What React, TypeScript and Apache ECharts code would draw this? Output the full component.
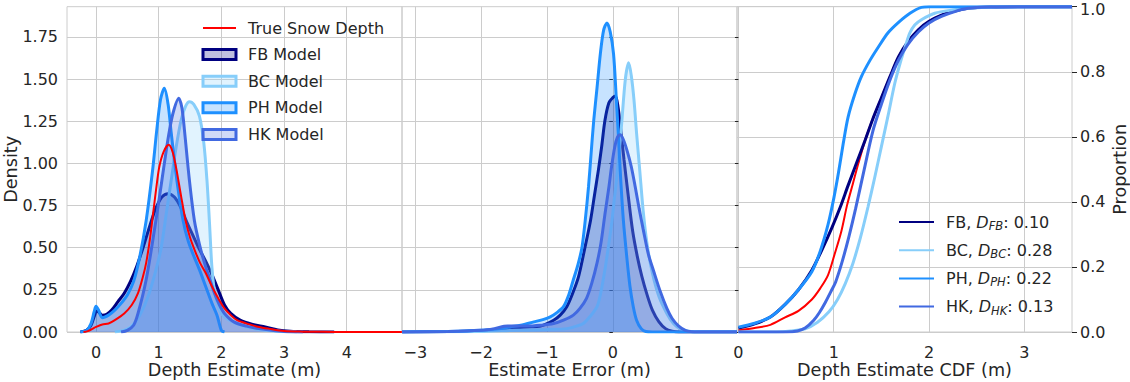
import React, { useEffect, useRef } from "react";
import * as echarts from "echarts";

const FONT = "DejaVu Sans";
const TEXT = "#262626";
const GRIDC = "#cccccc";

const MODEL_KEYS = ["FB", "BC", "PH", "HK"];
const MODEL_COLORS = ["#000080", "#87CEFA", "#1E90FF", "#4169E1"];
const TRUE_COLOR = "#FF0000";
const KS_VALUES = ["0.10", "0.28", "0.22", "0.13"];

const depthTicks = [0, 1, 2, 3, 4];
const errorTicks = [-3, -2, -1, 0, 1];
const cdfTicks = [0, 1, 2, 3];
const densityTicks = [0, 0.25, 0.5, 0.75, 1.0, 1.25, 1.5, 1.75];

// Panel 1: depth estimate densities
const trueDensity = [[-0.2,0],[-0.13,0.005],[-0.05,0.02],[0,0.03],[0.1,0.045],[0.2,0.05],[0.3,0.07],[0.45,0.11],[0.57,0.16],[0.67,0.23],[0.75,0.33],[0.8,0.41],[0.86,0.55],[0.91,0.7],[0.96,0.85],[1.01,0.98],[1.08,1.07],[1.16,1.11],[1.22,1.07],[1.28,0.97],[1.36,0.8],[1.43,0.66],[1.5,0.56],[1.58,0.48],[1.66,0.41],[1.75,0.35],[1.85,0.27],[1.95,0.2],[2.05,0.14],[2.15,0.1],[2.25,0.07],[2.45,0.045],[2.6,0.03],[2.75,0.02],[3.0,0.006],[3.3,0.002],[3.6,0.001],[4.0,0],[4.88,0]];
const fbDensity = [[-0.25,0],[-0.15,0.01],[-0.08,0.04],[-0.03,0.09],[0.01,0.125],[0.05,0.115],[0.1,0.1],[0.17,0.105],[0.25,0.13],[0.35,0.18],[0.45,0.23],[0.55,0.3],[0.65,0.39],[0.75,0.5],[0.85,0.62],[0.95,0.73],[1.05,0.8],[1.15,0.82],[1.25,0.8],[1.35,0.74],[1.45,0.65],[1.55,0.57],[1.65,0.49],[1.75,0.42],[1.85,0.34],[1.95,0.25],[2.05,0.16],[2.15,0.11],[2.3,0.07],[2.5,0.045],[2.7,0.03],[2.9,0.012],[3.1,0.004],[3.4,0.001],[3.8,0]];
const bcDensity = [[0.3,0],[0.45,0.01],[0.56,0.03],[0.7,0.1],[0.83,0.21],[0.95,0.36],[1.04,0.5],[1.12,0.7],[1.2,0.9],[1.28,1.1],[1.36,1.26],[1.43,1.34],[1.49,1.366],[1.56,1.35],[1.65,1.28],[1.72,1.12],[1.77,0.9],[1.81,0.65],[1.85,0.38],[1.9,0.22],[1.97,0.13],[2.05,0.09],[2.2,0.055],[2.4,0.03],[2.6,0.015],[2.9,0.004],[3.2,0]];
const phDensity = [[-0.25,0],[-0.15,0.01],[-0.08,0.05],[-0.03,0.12],[0,0.152],[0.04,0.13],[0.1,0.085],[0.2,0.1],[0.3,0.13],[0.4,0.17],[0.5,0.22],[0.6,0.3],[0.7,0.45],[0.8,0.66],[0.9,0.95],[0.97,1.2],[1.03,1.38],[1.09,1.445],[1.15,1.35],[1.2,1.18],[1.29,0.9],[1.39,0.66],[1.47,0.54],[1.55,0.46],[1.65,0.37],[1.75,0.27],[1.85,0.17],[1.93,0.1],[2.0,0.01],[2.05,0]];
const hkDensity = [[0.4,0],[0.5,0.01],[0.6,0.04],[0.67,0.11],[0.8,0.31],[0.93,0.6],[1.02,0.82],[1.09,1.0],[1.16,1.17],[1.23,1.3],[1.32,1.386],[1.37,1.33],[1.41,1.2],[1.49,0.9],[1.57,0.66],[1.65,0.52],[1.73,0.41],[1.81,0.32],[1.89,0.23],[1.97,0.16],[2.05,0.11],[2.2,0.06],[2.4,0.035],[2.6,0.02],[2.8,0.01],[3.0,0.003],[3.3,0]];

// Panel 2: estimate error densities
const fbError = [[-3.2,0],[-2.5,0.003],[-2.0,0.008],[-1.7,0.015],[-1.5,0.025],[-1.3,0.03],[-1.1,0.035],[-0.9,0.07],[-0.8,0.1],[-0.7,0.15],[-0.61,0.23],[-0.52,0.33],[-0.43,0.49],[-0.34,0.66],[-0.28,0.81],[-0.22,0.96],[-0.17,1.1],[-0.12,1.256],[-0.06,1.36],[0.0,1.39],[0.04,1.4],[0.08,1.33],[0.12,1.2],[0.17,1.02],[0.23,0.82],[0.3,0.6],[0.37,0.45],[0.44,0.33],[0.52,0.22],[0.6,0.13],[0.7,0.06],[0.8,0.02],[0.9,0.005],[1.0,0],[1.885,0]];
const bcError = [[-3.2,0],[-2.0,0.003],[-1.5,0.01],[-1.0,0.015],[-0.7,0.02],[-0.55,0.035],[-0.45,0.05],[-0.35,0.09],[-0.24,0.15],[-0.18,0.24],[-0.12,0.37],[-0.07,0.5],[-0.02,0.64],[0.02,0.78],[0.06,0.92],[0.13,1.22],[0.19,1.5],[0.24,1.596],[0.28,1.52],[0.32,1.38],[0.36,1.18],[0.41,0.95],[0.46,0.72],[0.52,0.52],[0.6,0.35],[0.7,0.21],[0.82,0.11],[0.92,0.05],[1.02,0.02],[1.15,0.005],[1.3,0],[1.885,0]];
const phError = [[-3.2,0],[-2.5,0.003],[-2.0,0.01],[-1.7,0.02],[-1.56,0.03],[-1.4,0.04],[-1.2,0.06],[-1.05,0.075],[-0.95,0.09],[-0.85,0.115],[-0.75,0.15],[-0.67,0.22],[-0.6,0.31],[-0.53,0.4],[-0.47,0.5],[-0.42,0.66],[-0.37,0.86],[-0.33,1.06],[-0.29,1.256],[-0.24,1.45],[-0.19,1.65],[-0.14,1.79],[-0.09,1.833],[-0.04,1.78],[0.01,1.65],[0.05,1.4],[0.085,1.157],[0.12,0.9],[0.16,0.66],[0.21,0.45],[0.26,0.27],[0.31,0.15],[0.36,0.07],[0.43,0.02],[0.5,0.003],[0.6,0],[1.885,0]];
const hkError = [[-3.2,0],[-2.5,0.003],[-2.0,0.01],[-1.8,0.02],[-1.6,0.035],[-1.45,0.035],[-1.3,0.035],[-1.1,0.04],[-0.9,0.05],[-0.75,0.07],[-0.6,0.1],[-0.5,0.14],[-0.4,0.2],[-0.32,0.29],[-0.24,0.41],[-0.18,0.53],[-0.12,0.7],[-0.06,0.86],[-0.02,0.98],[0.03,1.1],[0.07,1.155],[0.11,1.17],[0.16,1.14],[0.22,1.07],[0.28,0.98],[0.34,0.86],[0.4,0.73],[0.46,0.61],[0.54,0.46],[0.62,0.36],[0.72,0.24],[0.82,0.14],[0.9,0.08],[1.0,0.035],[1.1,0.01],[1.2,0.002],[1.3,0],[1.885,0]];

// Panel 3: CDFs
const trueCdf = [[0,0.005],[0.17,0.012],[0.335,0.022],[0.49,0.045],[0.63,0.065],[0.77,0.1],[0.86,0.135],[0.94,0.175],[1.01,0.24],[1.08,0.31],[1.14,0.39],[1.2,0.455],[1.26,0.52],[1.33,0.59],[1.41,0.655],[1.5,0.72],[1.59,0.785],[1.68,0.846],[1.78,0.893],[1.89,0.93],[2.0,0.955],[2.13,0.974],[2.27,0.987],[2.41,0.995],[2.65,0.999],[2.94,1],[3.5,1]];
const fbCdf = [[0,0.012],[0.17,0.025],[0.335,0.046],[0.49,0.085],[0.63,0.13],[0.77,0.19],[0.88,0.255],[0.98,0.32],[1.07,0.385],[1.15,0.45],[1.24,0.52],[1.33,0.59],[1.41,0.655],[1.5,0.72],[1.59,0.785],[1.68,0.846],[1.78,0.893],[1.89,0.93],[2.0,0.955],[2.13,0.974],[2.27,0.987],[2.41,0.995],[2.65,0.999],[2.94,1],[3.5,1]];
const bcCdf = [[0,0],[0.4,0],[0.55,0.003],[0.7,0.01],[0.83,0.03],[0.95,0.062],[1.04,0.1],[1.12,0.148],[1.2,0.21],[1.28,0.29],[1.36,0.385],[1.43,0.475],[1.5,0.57],[1.57,0.665],[1.64,0.764],[1.7,0.83],[1.75,0.877],[1.8,0.92],[1.85,0.944],[1.92,0.96],[2.06,0.98],[2.25,0.99],[2.41,0.995],[2.7,0.999],[3.0,1],[3.5,1]];
const phCdf = [[0,0.015],[0.17,0.027],[0.335,0.046],[0.49,0.085],[0.63,0.13],[0.77,0.185],[0.86,0.25],[0.94,0.33],[1.0,0.41],[1.05,0.49],[1.1,0.58],[1.15,0.66],[1.22,0.73],[1.29,0.785],[1.38,0.835],[1.47,0.877],[1.57,0.92],[1.68,0.952],[1.8,0.98],[1.92,0.998],[2.0,1],[3.5,1]];
const hkCdf = [[0,0],[0.5,0],[0.62,0.003],[0.7,0.012],[0.79,0.036],[0.85,0.06],[0.91,0.09],[0.98,0.13],[1.02,0.154],[1.09,0.218],[1.16,0.294],[1.23,0.38],[1.32,0.5],[1.41,0.617],[1.5,0.7],[1.59,0.775],[1.68,0.836],[1.78,0.885],[1.89,0.923],[2.0,0.95],[2.13,0.97],[2.27,0.985],[2.41,0.995],[2.65,0.999],[2.94,1],[3.5,1]];

const depthSeries = [fbDensity, bcDensity, phDensity, hkDensity];
const errorSeries = [fbError, bcError, phError, hkError];
const cdfSeries = [fbCdf, bcCdf, phCdf, hkCdf];

const minusFmt = (v: number) => (v < 0 ? "\u2212" + Math.abs(v) : String(v));

function hexToRgba(hex: string, a: number) {
  const n = parseInt(hex.slice(1), 16);
  return `rgba(${(n >> 16) & 255},${(n >> 8) & 255},${n & 255},${a})`;
}

export default function App() {
  const ref = useRef<HTMLDivElement>(null);
  useEffect(() => {
    if (!ref.current) return;
    const chart = echarts.init(ref.current, undefined, { renderer: "svg" });
    const textBase = { fontFamily: FONT, color: TEXT };
    const grids = [67, 402, 737].map((left) => ({
      left, top: 6.7, width: 335, height: 325.3, show: true, containLabel: false, outerBoundsMode: "none",
      borderColor: GRIDC, borderWidth: 1, backgroundColor: "transparent",
    }));
    const splitLine = { show: true, lineStyle: { color: GRIDC, width: 1 } };
    const xName = {
      nameLocation: "middle", nameGap: 29, nameMoveOverlap: false,
      nameTextStyle: { ...textBase, fontSize: 17.6, lineHeight: 18 },
    };
    const xAxis = [
      { type: "value", gridIndex: 0, min: -0.463, max: 4.882, name: "Depth Estimate (m)", ...xName,
        axisLine: { show: false }, axisTick: { show: false, customValues: depthTicks },
        axisLabel: { ...textBase, fontSize: 16, margin: 12, customValues: depthTicks, formatter: minusFmt }, splitLine },
      { type: "value", gridIndex: 1, min: -3.202, max: 1.885, name: "Estimate Error (m)", ...xName,
        axisLine: { show: false }, axisTick: { show: false, customValues: errorTicks },
        axisLabel: { ...textBase, fontSize: 16, margin: 12, customValues: errorTicks, formatter: minusFmt }, splitLine },
      { type: "value", gridIndex: 2, min: -0.015, max: 3.5, name: "Depth Estimate CDF (m)", ...xName,
        axisLine: { show: false }, axisTick: { show: false, customValues: cdfTicks },
        axisLabel: { ...textBase, fontSize: 16, margin: 12, customValues: cdfTicks, formatter: minusFmt }, splitLine },
    ];
    const densRange = { min: 0, max: 1.929 };
    const yAxis = [
      { type: "value", gridIndex: 0, ...densRange, name: "Density", nameLocation: "middle", nameGap: 47, nameRotate: 90,
        nameMoveOverlap: false, nameTextStyle: { ...textBase, fontSize: 17.6 },
        axisLine: { show: false }, axisTick: { show: false, customValues: densityTicks },
        axisLabel: { ...textBase, fontSize: 16, margin: 9, customValues: densityTicks, formatter: (v: number) => v.toFixed(2) },
        splitLine },
      { type: "value", gridIndex: 1, ...densRange, axisLine: { show: false },
        axisTick: { show: true, length: 3.5, customValues: densityTicks, lineStyle: { color: TEXT } },
        axisLabel: { show: false, customValues: densityTicks }, splitLine },
      { type: "value", gridIndex: 2, position: "left", ...densRange, axisLine: { show: false },
        axisTick: { show: true, length: 3.5, customValues: densityTicks, lineStyle: { color: TEXT } },
        axisLabel: { show: false, customValues: densityTicks }, splitLine: { show: false } },
      { type: "value", gridIndex: 2, position: "right", min: 0, max: 1, interval: 0.2,
        name: "Proportion", nameLocation: "middle", nameGap: 39, nameRotate: 90, nameMoveOverlap: false,
        nameTextStyle: { ...textBase, fontSize: 17.6 },
        axisLine: { show: false }, axisTick: { show: true, length: 5, lineStyle: { color: TEXT } },
        axisLabel: {
          ...textBase, fontSize: 16, lineHeight: 12, margin: 8,
          formatter: (v: number) => (v >= 1 ? `{t|${v.toFixed(1)}}` : v.toFixed(1)),
          rich: { t: { fontFamily: FONT, color: TEXT, fontSize: 16, lineHeight: 12, padding: [5, 0, 0, 0] } },
        },
        splitLine },
    ];

    const series: any[] = [];
    MODEL_KEYS.forEach((k, i) => {
      series.push({
        type: "line", name: k + " Model", xAxisIndex: 0, yAxisIndex: 0, data: depthSeries[i],
        symbol: "none", smooth: 0.3, lineStyle: { color: MODEL_COLORS[i], width: 3 },
        itemStyle: { color: MODEL_COLORS[i] },
        areaStyle: { color: MODEL_COLORS[i], opacity: 0.25 }, z: 2 + i,
      });
    });
    series.push({
      type: "line", name: "True Snow Depth", xAxisIndex: 0, yAxisIndex: 0, data: trueDensity,
      symbol: "none", smooth: 0.3, lineStyle: { color: TRUE_COLOR, width: 2 }, itemStyle: { color: TRUE_COLOR }, z: 10,
    });
    MODEL_KEYS.forEach((k, i) => {
      series.push({
        type: "line", name: k + " Model", xAxisIndex: 1, yAxisIndex: 1, data: errorSeries[i],
        symbol: "none", smooth: 0.3, lineStyle: { color: MODEL_COLORS[i], width: 3 },
        itemStyle: { color: MODEL_COLORS[i] },
        areaStyle: { color: MODEL_COLORS[i], opacity: 0.25 }, z: 2 + i,
      });
    });
    series.push({
      type: "line", name: "True CDF", xAxisIndex: 2, yAxisIndex: 3, data: trueCdf,
      symbol: "none", smooth: 0.3, lineStyle: { color: TRUE_COLOR, width: 2 }, itemStyle: { color: TRUE_COLOR }, z: 2,
    });
    MODEL_KEYS.forEach((k, i) => {
      series.push({
        type: "line", name: k + " CDF", xAxisIndex: 2, yAxisIndex: 3, data: cdfSeries[i],
        symbol: "none", smooth: 0.3, lineStyle: { color: MODEL_COLORS[i], width: 3 },
        itemStyle: { color: MODEL_COLORS[i] }, z: 3 + i,
      });
    });

    const cdfLabel: Record<string, string> = {};
    MODEL_KEYS.forEach((k, i) => {
      cdfLabel[k + " CDF"] = `{n|${k}, }{d|D}{s|${k}}{n|: ${KS_VALUES[i]}}`;
    });

    const legend = [
      {
        orient: "vertical", left: 201.5, top: 20, padding: 0, itemGap: 10.6, itemWidth: 33, itemHeight: 10,
        textStyle: { ...textBase, fontSize: 16, lineHeight: 16, padding: [0, 0, 0, 7] },
        data: [
          { name: "True Snow Depth", itemStyle: { opacity: 0 } },
          ...MODEL_KEYS.map((k, i) => ({
            name: k + " Model", icon: "rect",
            itemStyle: { color: hexToRgba(MODEL_COLORS[i], 0.25), borderColor: MODEL_COLORS[i], borderWidth: 3, opacity: 1 },
          })),
        ],
      },
      {
        orient: "vertical", left: 898, top: 214, padding: 0, itemGap: 10.2, itemWidth: 35, itemHeight: 14,
        itemStyle: { opacity: 0 },
        textStyle: {
          ...textBase, fontSize: 16, padding: [0, 0, 0, 7],
          rich: {
            n: { fontFamily: FONT, color: TEXT, fontSize: 16, lineHeight: 20, verticalAlign: "middle" },
            d: { fontFamily: FONT, color: TEXT, fontSize: 16, fontStyle: "italic", lineHeight: 20, verticalAlign: "middle" },
            s: { fontFamily: FONT, color: TEXT, fontSize: 11.5, fontStyle: "italic", lineHeight: 12, verticalAlign: "bottom" },
          },
        },
        formatter: (name: string) => cdfLabel[name] || name,
        data: MODEL_KEYS.map((k) => ({ name: k + " CDF" })),
      },
    ];

    chart.setOption({
      animation: false,
      backgroundColor: "#ffffff",
      textStyle: { fontFamily: FONT },
      grid: grids,
      xAxis,
      yAxis,
      legend,
      series,
    });
    return () => chart.dispose();
  }, []);
  return <div ref={ref} style={{ position: "absolute", left: 0, top: 0, width: 1130, height: 382 }} />;
}
